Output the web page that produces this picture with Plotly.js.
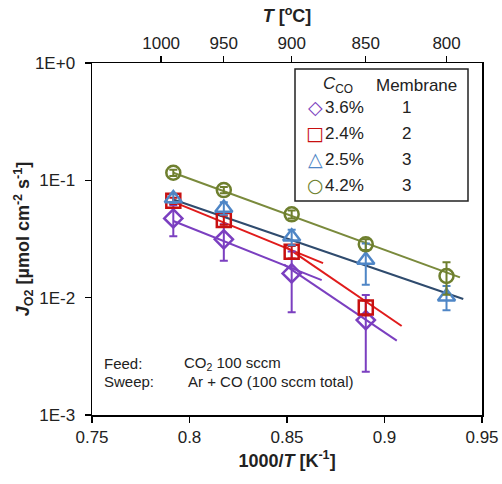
<!DOCTYPE html>
<html>
<head>
<meta charset="utf-8">
<script src="https://cdn.plot.ly/plotly-3.0.1.min.js"></script>
<style>html,body{margin:0;padding:0;background:#fff;}#chart{width:502px;height:484px;}</style>
</head>
<body>
<div id="chart"></div>
<script>
// ---- data ----
const invT = [0.7917, 0.8176, 0.8524, 0.8904, 0.9318];   // 1000/T [1/K]
const seriesNames = ["3.6%", "2.4%", "2.5%", "4.2%"];
const membranes = ["1", "2", "3", "3"];

const purpleY   = [0.0474, 0.0314, 0.0161, 0.00644];
const purpleErr = [0.014, 0.0108, 0.0086, 0.0041];
const redY      = [0.067, 0.0459, 0.0246, 0.00826];
const redErr    = [0.004, 0.004, 0.003, 0.0012];
const blueY     = [0.070, 0.058, 0.033, 0.0209, 0.0102];
const blueErr   = [0.006, 0.007, 0.005, 0.008, 0.0024];
const oliveY    = [0.116, 0.0826, 0.0513, 0.0285, 0.0153];
const oliveErr  = [0.007, 0.005, 0.004, 0.003, 0.0047];

// fitted trend lines (end points)
const oliveFitX = [0.7917, 0.9387],  oliveFitY = [0.116, 0.0149];
const blueFitX  = [0.7917, 0.9404],  blueFitY  = [0.0687, 0.00973];
const redFitAX  = [0.7917, 0.8685],  redFitAY  = [0.0655, 0.0197];
const redFitBX  = [0.8485, 0.9088],  redFitBY  = [0.0278, 0.00573];
const purFitAX  = [0.7917, 0.8678],  purFitAY  = [0.0450, 0.0141];
const purFitBX  = [0.8485, 0.9063],  purFitBY  = [0.0191, 0.0043];

const topT = [1000, 950, 900, 850, 800];                // top axis [°C]
const yTickVals = [1, 0.1, 0.01, 0.001];
const yTickText = ["1E+0", "1E-1", "1E-2", "1E-3"];

// ---- styling ----
const C = {
  purple: "#7B3FC0", purpleLine: "#7B3FC0",
  red: "#C81010", redLine: "#E01B1B",
  blue: "#4F86C6", blueLine: "#2F4B6E",
  olive: "#6E7F2E", oliveLine: "#7A8A3C"
};
const FONT = "Liberation Sans, Arial, sans-serif";

function lineTrace(x, y, color) {
  return {x: x, y: y, mode: "lines", type: "scatter", showlegend: false, hoverinfo: "skip",
          line: {color: color, width: 2}};
}
function markerTrace(y, err, color, symbol, size, name) {
  return {x: invT.slice(0, y.length), y: y, mode: "markers", type: "scatter", name: name, showlegend: false,
          marker: {symbol: symbol, size: size, color: color, line: {color: color, width: 2.5}},
          error_y: {type: "data", array: err, visible: true, color: color, thickness: 2, width: 4}};
}

const traces = [
  lineTrace(oliveFitX, oliveFitY, C.oliveLine),
  lineTrace(blueFitX, blueFitY, C.blueLine),
  lineTrace(redFitAX, redFitAY, C.redLine),
  lineTrace(redFitBX, redFitBY, C.redLine),
  lineTrace(purFitAX, purFitAY, C.purpleLine),
  lineTrace(purFitBX, purFitBY, C.purpleLine),
  markerTrace(purpleY, purpleErr, C.purple, "diamond-open", 14, seriesNames[0]),
  markerTrace(redY, redErr, C.red, "square-open", 14, seriesNames[1]),
  markerTrace(blueY, blueErr, C.blue, "triangle-up-open", 15, seriesNames[2]),
  markerTrace(oliveY, oliveErr, C.olive, "circle-open", 14, seriesNames[3]),
  // carrier for the top temperature axis
  {x: topT.map(t => 1000 / (t + 273.15)), y: topT.map(() => null), xaxis: "x2", yaxis: "y",
   mode: "markers", type: "scatter", showlegend: false, hoverinfo: "skip"}
];

// plot area in pixels
const L = 92, R = 482, T0 = 63, B = 415;
const px = v => (v - L) / (R - L);
const py = v => (B - v) / (B - T0);

function ann(text, x, y, size, opts) {
  return Object.assign({text: text, x: px(x), y: py(y), xref: "paper", yref: "paper",
    showarrow: false, xanchor: "center", yanchor: "middle",
    font: {family: FONT, size: size, color: "#222"}}, opts || {});
}

const symbolsTxt = ["\u25C7", "\u25A1", "\u25B3", "\u25CB"];
const symColors = [C.purple, C.red, C.blue, C.olive];
const rowY = [107, 133, 159, 185];

const annotations = [
  ann("<i>C</i><sub>CO</sub>", 338, 85, 17),
  ann("Membrane", 416, 85, 17)
];
seriesNames.forEach((n, i) => {
  annotations.push(ann(symbolsTxt[i], 315, rowY[i], 19,
                       {font: {family: "DejaVu Sans", size: 19, color: symColors[i], weight: "bold"}}));
  annotations.push(ann(n, 323, rowY[i], 17, {xanchor: "left"}));
  annotations.push(ann(membranes[i], 406, rowY[i], 17));
});
annotations.push(ann("Feed:", 102, 363, 15, {xanchor: "left"}));
annotations.push(ann("CO<sub>2</sub> 100 sccm", 182, 363, 15, {xanchor: "left"}));
annotations.push(ann("Sweep:", 102, 381, 15, {xanchor: "left"}));
annotations.push(ann("Ar + CO (100 sccm total)", 186, 381, 15, {xanchor: "left"}));

const layout = {
  width: 502, height: 484,
  margin: {l: L, r: 502 - R, t: T0, b: 484 - B, pad: 0},
  paper_bgcolor: "#fff", plot_bgcolor: "#fff",
  font: {family: FONT, size: 17, color: "#222"},
  showlegend: false,
  xaxis: {
    range: [0.75, 0.95], tickvals: [0.75, 0.8, 0.85, 0.9, 0.95], ticktext: ["0.75", "0.8", "0.85", "0.9", "0.95"],
    showgrid: false, zeroline: false, showline: true, linecolor: "#000", linewidth: 1.5,
    ticks: "outside", ticklen: 6, tickwidth: 1.5, tickcolor: "#000",
    tickfont: {family: FONT, size: 17, color: "#222"},
    title: {text: "<b>1000/<i>T</i> [K<sup>-1</sup>]</b>", font: {family: FONT, size: 18, color: "#222"}, standoff: 8}
  },
  xaxis2: {
    overlaying: "x", side: "top", anchor: "y",
    range: [0.75, 0.95], tickvals: topT.map(t => 1000 / (t + 273.15)), ticktext: topT.map(String),
    showgrid: false, zeroline: false, showline: true, linecolor: "#000", linewidth: 1.5,
    ticks: "outside", ticklen: 6, tickwidth: 1.5, tickcolor: "#000",
    tickfont: {family: FONT, size: 17, color: "#222"},
    title: {text: "<b><i>T</i> [<sup>o</sup>C]</b>", font: {family: FONT, size: 18, color: "#222"}, standoff: 6}
  },
  yaxis: {
    type: "log", range: [-3, 0], tickvals: yTickVals, ticktext: yTickText,
    showgrid: false, zeroline: false, showline: true, mirror: true, linecolor: "#000", linewidth: 1.5,
    ticks: "outside", ticklen: 6, tickwidth: 1.5, tickcolor: "#000", ticklabelstandoff: 6,
    tickfont: {family: FONT, size: 17, color: "#222"},
    title: {text: "<b><i>J</i><sub>O2</sub> [µmol cm<sup>-2</sup> s<sup>-1</sup>]</b>", font: {family: FONT, size: 18, color: "#222"}, standoff: 0}
  },
  shapes: [{type: "rect", xref: "paper", yref: "paper", x0: px(295), x1: px(468), y0: py(201), y1: py(69),
            line: {color: "#222", width: 1.5}, fillcolor: "rgba(0,0,0,0)"}],
  annotations: annotations
};

Plotly.newPlot("chart", traces, layout, {displayModeBar: false, staticPlot: true});
</script>
</body>
</html>
